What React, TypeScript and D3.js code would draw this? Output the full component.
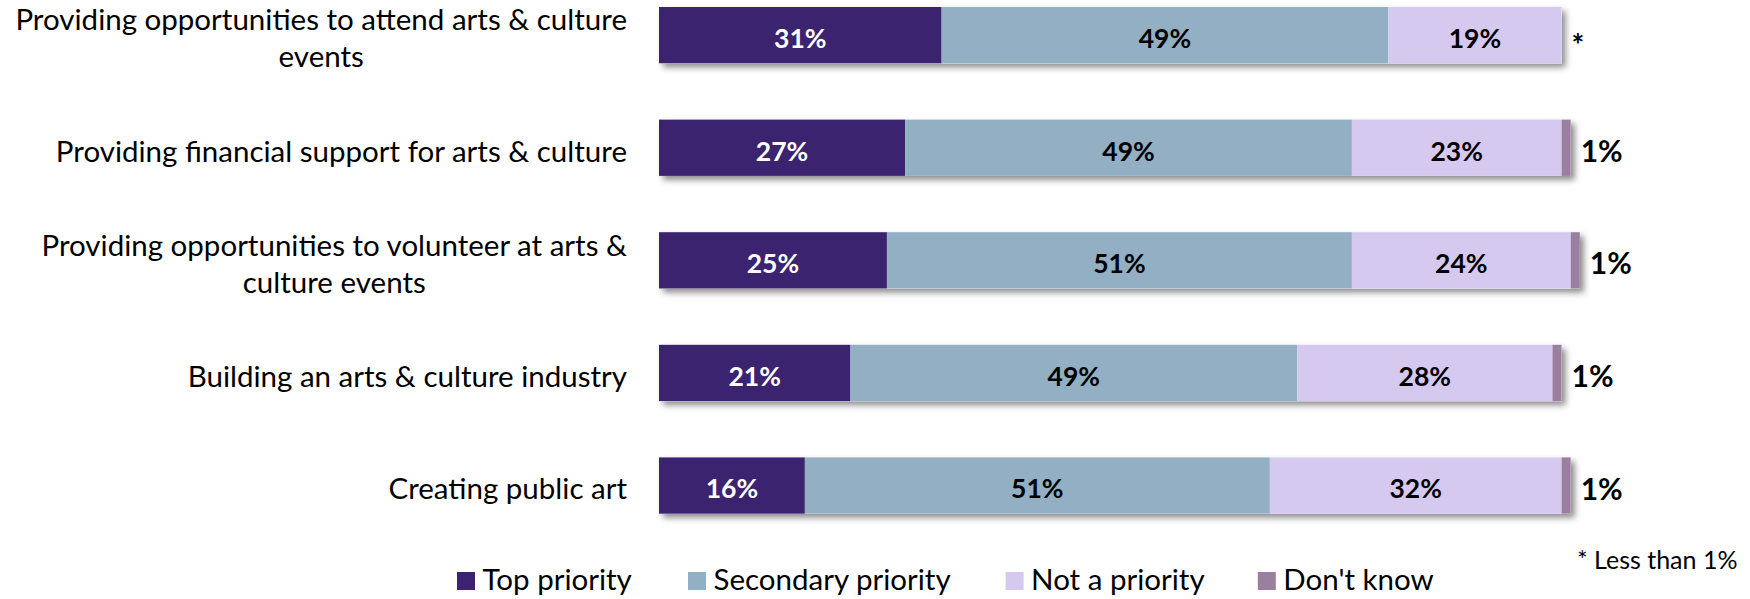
import React, { useEffect, useRef } from "react";
import * as d3 from "d3";

const categories = [
  "Providing opportunities to attend arts & culture|events",
  "Providing financial support for arts & culture",
  "Providing opportunities to volunteer at arts &|culture events",
  "Building an arts & culture industry",
  "Creating public art",
];
const seriesNames = ["Top priority", "Secondary priority", "Not a priority", "Don't know"];
const topPriority = [31, 27, 25, 21, 16];
const secondaryPriority = [49, 49, 51, 49, 51];
const notAPriority = [19, 23, 24, 28, 32];
const dontKnow = [0, 1, 1, 1, 1];
const dontKnowLabels = ["*", "1%", "1%", "1%", "1%"];
const footnote = "* Less than 1%";

const colors = ["#3B2370", "#92AFC3", "#D5C9EF", "#9B7F9F"];
const textColors = ["#FFFFFF", "#000000", "#000000", "#000000"];
const FONT = "Lato, 'Open Sans', sans-serif";

export default function App() {
  const ref = useRef<SVGSVGElement>(null);

  useEffect(() => {
    const svg = d3.select(ref.current);
    svg.selectAll("*").remove();

    const defs = svg.append("defs");
    const f = defs
      .append("filter")
      .attr("id", "shadow")
      .attr("x", "-5%")
      .attr("y", "-20%")
      .attr("width", "115%")
      .attr("height", "160%");
    f.append("feDropShadow")
      .attr("dx", 4)
      .attr("dy", 4)
      .attr("stdDeviation", 3)
      .attr("flood-color", "#000")
      .attr("flood-opacity", 0.45);

    const x = d3.scaleLinear().domain([0, 100]).range([659, 1570.7]);
    const y = d3
      .scaleBand<string>()
      .domain(categories)
      .range([7, 513.7])
      .paddingInner(0.5)
      .paddingOuter(0);

    const series = [topPriority, secondaryPriority, notAPriority, dontKnow];
    const rows = categories.map((c, i) => {
      const o: any = { cat: c };
      seriesNames.forEach((s, k) => (o[s] = series[k][i]));
      return o;
    });
    const stack = d3.stack<any>().keys(seriesNames)(rows);

    const barsG = svg.append("g");
    categories.forEach((c, i) => {
      const total = topPriority[i] + secondaryPriority[i] + notAPriority[i] + dontKnow[i];
      barsG
        .append("rect")
        .attr("x", x(0))
        .attr("y", y(c)!)
        .attr("width", x(total) - x(0))
        .attr("height", y.bandwidth())
        .attr("fill", "#fff")
        .attr("filter", "url(#shadow)");
    });

    stack.forEach((layer, k) => {
      barsG
        .append("g")
        .selectAll("rect")
        .data(layer)
        .join("rect")
        .attr("x", (d) => x(d[0]))
        .attr("y", (d) => y(d.data.cat)!)
        .attr("width", (d) => Math.max(0, x(d[1]) - x(d[0])))
        .attr("height", y.bandwidth())
        .attr("fill", colors[k]);
    });

    const shift = 3.5;

    stack.slice(0, 3).forEach((layer, k) => {
      svg
        .append("g")
        .selectAll("text")
        .data(layer)
        .join("text")
        .attr("x", (d) => (x(d[0]) + x(d[1])) / 2)
        .attr("y", (d) => y(d.data.cat)! + y.bandwidth() / 2 + shift)
        .attr("dy", "0.35em")
        .attr("text-anchor", "middle")
        .attr("font-family", FONT)
        .attr("font-weight", "bold")
        .attr("font-size", 26.5)
        .attr("fill", textColors[k])
        .text((d) => `${d[1] - d[0]}%`);
    });

    const last = stack[3];
    svg
      .append("g")
      .selectAll("text")
      .data(last)
      .join("text")
      .attr("x", (d) => x(d[1]) + 10)
      .attr("y", (d, i) => y(d.data.cat)! + y.bandwidth() / 2 + (i === 0 ? 10 : shift))
      .attr("dy", "0.35em")
      .attr("font-family", FONT)
      .attr("font-weight", "bold")
      .attr("font-size", 30)
      .attr("fill", "#000")
      .text((d, i) => dontKnowLabels[i]);

    const rightEdge = 627;
    categories.forEach((c) => {
      const lines = c.split("|");
      const cy = y(c)! + y.bandwidth() / 2 + shift;
      const lh = 37;
      const g = svg.append("g");
      const texts = lines.map((line, li) =>
        g
          .append("text")
          .attr("y", cy + (li - (lines.length - 1) / 2) * lh)
          .attr("dy", "0.35em")
          .attr("font-family", FONT)
          .attr("font-size", 29.5)
          .attr("fill", "#000")
          .text(line)
      );
      const widths = texts.map((t) => (t.node() as SVGTextElement).getComputedTextLength());
      const maxW = Math.max(...widths);
      texts.forEach((t) => t.attr("x", rightEdge - maxW / 2).attr("text-anchor", "middle"));
    });

    const legendX = [457, 688, 1005.6, 1257.8];
    const legendBase = 590;
    seriesNames.forEach((s, k) => {
      svg
        .append("rect")
        .attr("x", legendX[k])
        .attr("y", 572)
        .attr("width", 18)
        .attr("height", 18)
        .attr("fill", colors[k]);
      svg
        .append("text")
        .attr("x", legendX[k] + 25.5)
        .attr("y", legendBase)
        .attr("font-family", FONT)
        .attr("font-size", 29.5)
        .attr("fill", "#000")
        .text(s);
    });

    svg
      .append("text")
      .attr("x", 1577)
      .attr("y", 569)
      .attr("font-family", FONT)
      .attr("font-size", 25)
      .attr("fill", "#000")
      .text(footnote);
  }, []);

  return (
    <svg
      ref={ref}
      width={1750}
      height={599}
      style={{ position: "absolute", left: 0, top: 0, background: "#fff", display: "block" }}
    />
  );
}
